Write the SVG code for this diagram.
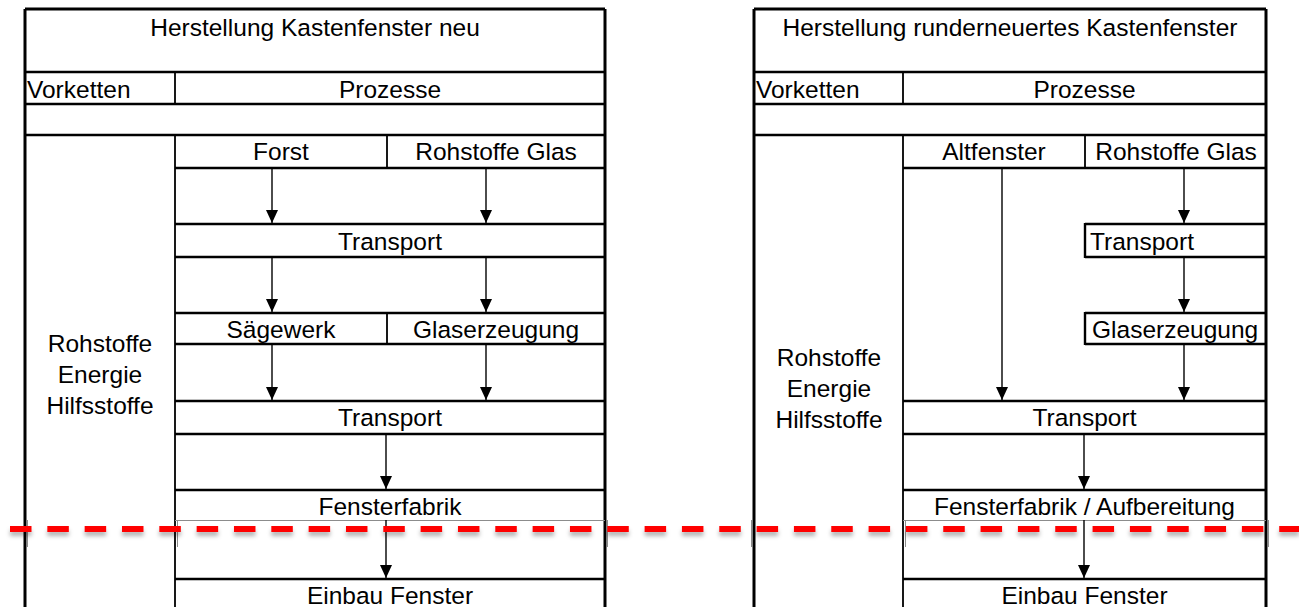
<svg xmlns="http://www.w3.org/2000/svg" width="1299" height="607" viewBox="0 0 1299 607">
<style>
text{font-family:"Liberation Sans",Arial,sans-serif;font-size:24.5px;fill:#000}
.c{text-anchor:middle}
.s{text-anchor:start}
.outer{stroke:#000;stroke-width:3;fill:none}
.row{stroke:#000;stroke-width:2.4;fill:none}
.div{stroke:#000;stroke-width:1.8;fill:none}
.arr{stroke:#000;stroke-width:1.4;fill:none;marker-end:url(#ah)}
.seam{stroke:#8c8c8c;stroke-width:1;fill:none}
.cut{stroke:#ff0000;stroke-width:6;stroke-dasharray:21.5 15.83;fill:none}
</style>
<defs>
<marker id="ah" markerUnits="userSpaceOnUse" markerWidth="12" markerHeight="14" refX="6" refY="13" orient="0" viewBox="0 0 12 14">
<path d="M0,0 L12,0 L6,13 Z" fill="#000"/>
</marker>
<filter id="sh" filterUnits="userSpaceOnUse" x="0" y="515" width="1299" height="35">
<feGaussianBlur in="SourceAlpha" stdDeviation="2"/>
<feOffset dx="0" dy="4" result="b"/>
<feFlood flood-color="#000" flood-opacity="0.3"/>
<feComposite in2="b" operator="in"/>
<feMerge><feMergeNode/><feMergeNode in="SourceGraphic"/></feMerge>
</filter>
</defs>

<g id="table-left">
<path class="outer" d="M25,9 H605 M25,9 V620 M605,9 V620"/>
<path class="row" d="M25,72 H605 M25,104 H605 M25,135 H605"/>
<path class="div" d="M175,72 V104 M175,135 V620 M387,135 V168 M387,313 V344"/>
<path class="row" d="M175,168 H605 M175,224 H605 M175,257 H605 M175,313 H605 M175,344 H605 M175,401 H605 M175,434 H605 M175,490 H605 M175,579 H605"/>
<path class="seam" d="M175,520.5 H605 M607.5,520 V547 M177.5,520 V547 M27.5,520 V547"/>
<text class="c" x="315" y="36">Herstellung Kastenfenster neu</text>
<text class="s" x="27" y="98">Vorketten</text>
<text class="c" x="390" y="98">Prozesse</text>
<text class="c" x="100" y="352">Rohstoffe</text>
<text class="c" x="100" y="383">Energie</text>
<text class="c" x="100" y="414">Hilfsstoffe</text>
</g>
<g id="n-forst"><text class="c" x="281" y="160">Forst</text></g>
<g id="n-rohglas-l"><text class="c" x="496" y="160">Rohstoffe Glas</text></g>
<g id="n-transport1-l"><text class="c" x="390" y="250">Transport</text></g>
<g id="n-saegewerk"><text class="c" x="281" y="338">Sägewerk</text></g>
<g id="n-glaserz-l"><text class="c" x="496" y="338">Glaserzeugung</text></g>
<g id="n-transport2-l"><text class="c" x="390" y="426">Transport</text></g>
<g id="n-fabrik-l"><text class="c" x="390" y="515">Fensterfabrik</text></g>
<g id="n-einbau-l"><text class="c" x="390" y="604">Einbau Fenster</text></g>

<g id="table-right">
<path class="outer" d="M754,9 H1266 M754,9 V620 M1266,9 V620"/>
<path class="row" d="M754,72 H1266 M754,104 H1266 M754,135 H1266"/>
<path class="div" d="M903,72 V104 M903,135 V620 M1085,135 V168"/>
<path class="row" d="M903,168 H1266 M1085,224 H1266 M1085,257 H1266 M1085,313 H1266 M1085,344 H1266 M903,401 H1266 M903,434 H1266 M903,490 H1266 M903,579 H1266"/>
<path class="row" d="M1085,223 V258 M1085,312 V345"/>
<path class="seam" d="M903,520.5 H1266 M1268.5,520 V547 M905.5,520 V547 M751.5,520 V547"/>
<text class="c" x="1010" y="36">Herstellung runderneuertes Kastenfenster</text>
<text class="s" x="756" y="98">Vorketten</text>
<text class="c" x="1084.5" y="98">Prozesse</text>
<text class="c" x="829" y="366">Rohstoffe</text>
<text class="c" x="829" y="397">Energie</text>
<text class="c" x="829" y="428">Hilfsstoffe</text>
</g>
<g id="n-altfenster"><text class="c" x="994" y="160">Altfenster</text></g>
<g id="n-rohglas-r"><text class="c" x="1176" y="160">Rohstoffe Glas</text></g>
<g id="n-transport1-r"><text class="s" x="1090" y="250">Transport</text></g>
<g id="n-glaserz-r"><text class="s" x="1092" y="338">Glaserzeugung</text></g>
<g id="n-transport2-r"><text class="c" x="1084.5" y="426">Transport</text></g>
<g id="n-fabrik-r"><text class="c" x="1084.5" y="515">Fensterfabrik / Aufbereitung</text></g>
<g id="n-einbau-r"><text class="c" x="1084.5" y="604">Einbau Fenster</text></g>

<g id="connectors">
<path class="arr" d="M272,168 V223"/>
<path class="arr" d="M486,168 V223"/>
<path class="arr" d="M272,257 V312"/>
<path class="arr" d="M486,257 V312"/>
<path class="arr" d="M272,344 V400"/>
<path class="arr" d="M486,344 V400"/>
<path class="arr" d="M386,434 V489"/>
<path class="arr" d="M386,520 V578"/>
<path class="arr" d="M1184,168 V223"/>
<path class="arr" d="M1184,257 V312"/>
<path class="arr" d="M1184,344 V400"/>
<path class="arr" d="M1002,168 V400"/>
<path class="arr" d="M1084,434 V489"/>
<path class="arr" d="M1084,520 V578"/>
</g>

<g id="cut-line" filter="url(#sh)">
<path class="cut" d="M10,529 H1299"/>
</g>
</svg>
